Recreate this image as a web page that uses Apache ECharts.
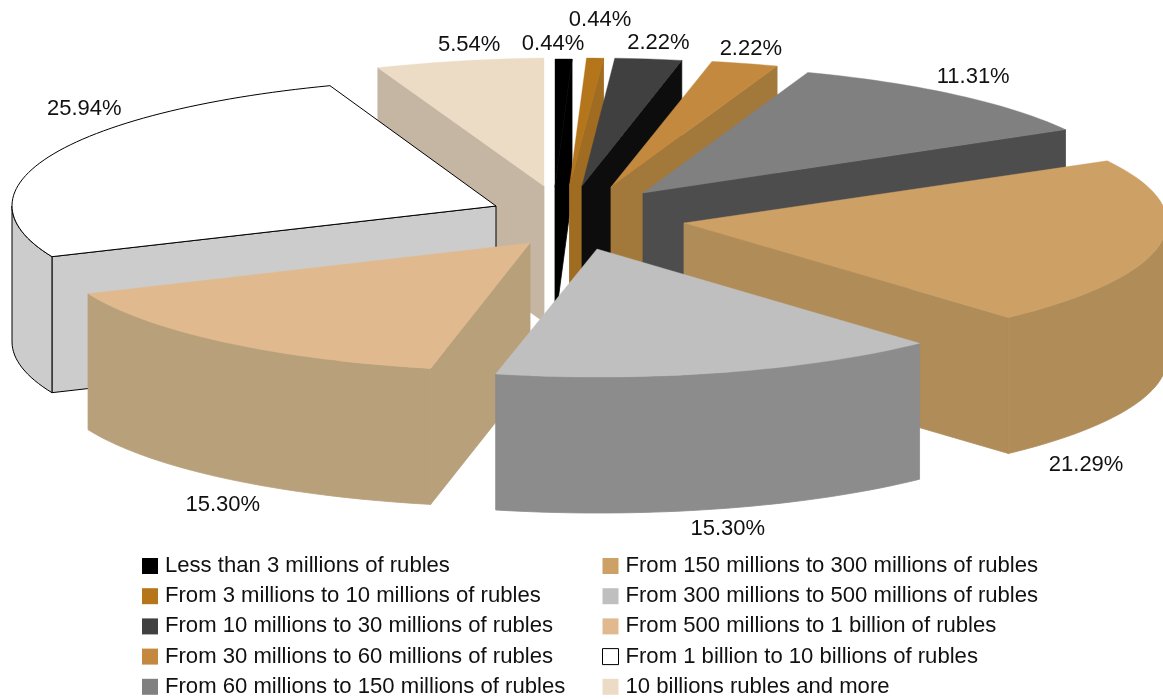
<!DOCTYPE html>
<html>
<head>
<meta charset="utf-8">
<script src="https://cdn.jsdelivr.net/npm/echarts@6/dist/echarts.min.js"></script>
<style>html,body{margin:0;padding:0;background:#fff}#chart{width:1163px;height:699px}</style>
</head>
<body>
<div id="chart"></div>
<script>
// Share of companies by size band, in percent
const categories = [
  'Less than 3 millions of rubles',
  'From 3 millions to 10 millions of rubles',
  'From 10 millions to 30 millions of rubles',
  'From 30 millions to 60 millions of rubles',
  'From 60 millions to 150 millions of rubles',
  'From 150 millions to 300 millions of rubles',
  'From 300 millions to 500 millions of rubles',
  'From 500 millions to 1 billion of rubles',
  'From 1 billion to 10 billions of rubles',
  '10 billions rubles and more'
];
const shares = [0.44, 0.44, 2.22, 2.22, 11.31, 21.29, 15.30, 15.30, 25.94, 5.54];

// Face colours of each wedge
const topColors  = ['#000000', '#b5751b', '#404040', '#c38a3f', '#808080', '#cda065', '#bfbfbf', '#e0ba8e', '#ffffff', '#eddcc5'];
const wallColors = ['#000000', '#a06c22', '#0d0d0d', '#a3783b', '#4d4d4d', '#b08c59', '#8c8c8c', '#b8a07b', '#cccccc', '#c5b6a4'];

// Per-wedge projection: explosion from the pie centre, horizontal radius,
// horizontal and vertical shear of the ellipse, label offset from the rim
const PIE = { cx: 590, cy: 215, ry: 128, depth: 136 };
const explode = [[-35, -28], [-20.5, -29], [-8, -29], [21, -28], [53, -22], [94, 8], [7, 34], [-60, 28], [-94, -9], [-46, -29]];
const widths  = [616, 616, 485, 486, 485, 483, 475, 480, 484, 487];
const shearX  = [0, 0, 6, 7, 6, 11, 6, 3, -1, 0];
const shearY  = [0, 0, 0, 0, 1, 2.4, 2, 0, 0, -6];
const labelShift = [[-10.5, -15], [5, -38], [10, -16], [6, -15], [17, -18], [-74.4, 221], [6, 156], [-2, 163], [33, -46], [9.5, -16]];
// Back wedges are painted first
const paintOrder = [9, 0, 1, 2, 3, 4, 5, 8, 7, 6];

const total = shares.reduce((a, b) => a + b, 0);
const DEG = Math.PI / 180;

function rimPoint(index, ax, ay, deg) {
  const t = deg * DEG;
  return [
    ax + widths[index] * Math.sin(t) + shearX[index] * Math.cos(t),
    ay - PIE.ry * Math.cos(t) + shearY[index] * Math.sin(t)
  ];
}

function rimPoints(index, ax, ay, from, to) {
  const steps = Math.max(2, Math.ceil((to - from) / 1.5));
  const pts = [];
  for (let k = 0; k <= steps; k++) {
    pts.push(rimPoint(index, ax, ay, from + (to - from) * k / steps));
  }
  return pts;
}

function drop(p) { return [p[0], p[1] + PIE.depth]; }

function renderWedge(index) {
  return function (params, api) {
    const value = api.value(0);
    let before = 0;
    for (let j = 0; j < index; j++) before += shares[j];
    const from = before / total * 360;
    const to = from + value / total * 360;
    const ax = PIE.cx + explode[index][0];
    const ay = PIE.cy + explode[index][1];
    const apex = [ax, ay];
    const rim = rimPoints(index, ax, ay, from, to);
    const outlined = topColors[index] === '#ffffff';
    const faceStyle = function (fill, seam) {
      return outlined
        ? { fill: fill, stroke: '#000000', lineWidth: 1, lineJoin: 'round' }
        : { fill: fill, stroke: fill, lineWidth: seam };
    };
    const children = [];
    const wall = wallColors[index];

    // Cut faces that look towards the viewer
    if (Math.sin(from * DEG) < 0) {
      const p = rim[0];
      children.push({ type: 'polygon', shape: { points: [apex, p, drop(p), drop(apex)] }, style: faceStyle(wall, 0.8) });
    }
    if (Math.sin(to * DEG) > 0) {
      const p = rim[rim.length - 1];
      children.push({ type: 'polygon', shape: { points: [apex, p, drop(p), drop(apex)] }, style: faceStyle(wall, 0.8) });
    }
    // Curved outer wall: only the near half of the ellipse shows
    const a = Math.max(from, 90), b = Math.min(to, 270);
    if (b > a) {
      const arc = rimPoints(index, ax, ay, a, b);
      children.push({ type: 'polygon', shape: { points: arc.concat(arc.map(drop).reverse()) }, style: faceStyle(wall, 0.8) });
    }
    // Top face
    children.push({ type: 'polygon', shape: { points: [apex].concat(rim) }, style: faceStyle(topColors[index], 0.4) });

    // Percentage label
    const anchor = rimPoint(index, ax, ay, (from + to) / 2);
    children.push({
      type: 'text',
      z2: 100,
      x: anchor[0] + labelShift[index][0],
      y: anchor[1] + labelShift[index][1],
      style: {
        text: value.toFixed(2) + '%',
        fill: '#111111',
        fontFamily: 'Liberation Sans',
        fontSize: 22,
        align: 'center',
        verticalAlign: 'middle'
      }
    });
    return { type: 'group', children: children };
  };
}

const series = categories.map(function (name, i) {
  return {
    type: 'custom',
    name: name,
    coordinateSystem: 'none',
    silent: true,
    clip: false,
    z: 2 + paintOrder.indexOf(i),
    itemStyle: { color: topColors[i] },
    data: [[shares[i]]],
    renderItem: renderWedge(i)
  };
});

function legendColumn(names, left) {
  return {
    orient: 'vertical',
    left: left,
    top: 554,
    padding: 0,
    selectedMode: false,
    icon: 'rect',
    itemWidth: 16,
    itemHeight: 16,
    itemGap: 6.2,
    textStyle: { fontFamily: 'Liberation Sans', fontSize: 22.1, color: '#111111', padding: [0, 0, 0, 2], lineHeight: 24 },
    data: names.map(function (n) {
      return topColors[categories.indexOf(n)] === '#ffffff'
        ? { name: n, itemStyle: { borderColor: '#000000', borderWidth: 1 } }
        : { name: n };
    })
  };
}

const chart = echarts.init(document.getElementById('chart'), null, { renderer: 'canvas' });
chart.setOption({
  animation: false,
  backgroundColor: '#ffffff',
  legend: [legendColumn(categories.slice(0, 5), 142), legendColumn(categories.slice(5), 602)],
  series: series
});
</script>
</body>
</html>
